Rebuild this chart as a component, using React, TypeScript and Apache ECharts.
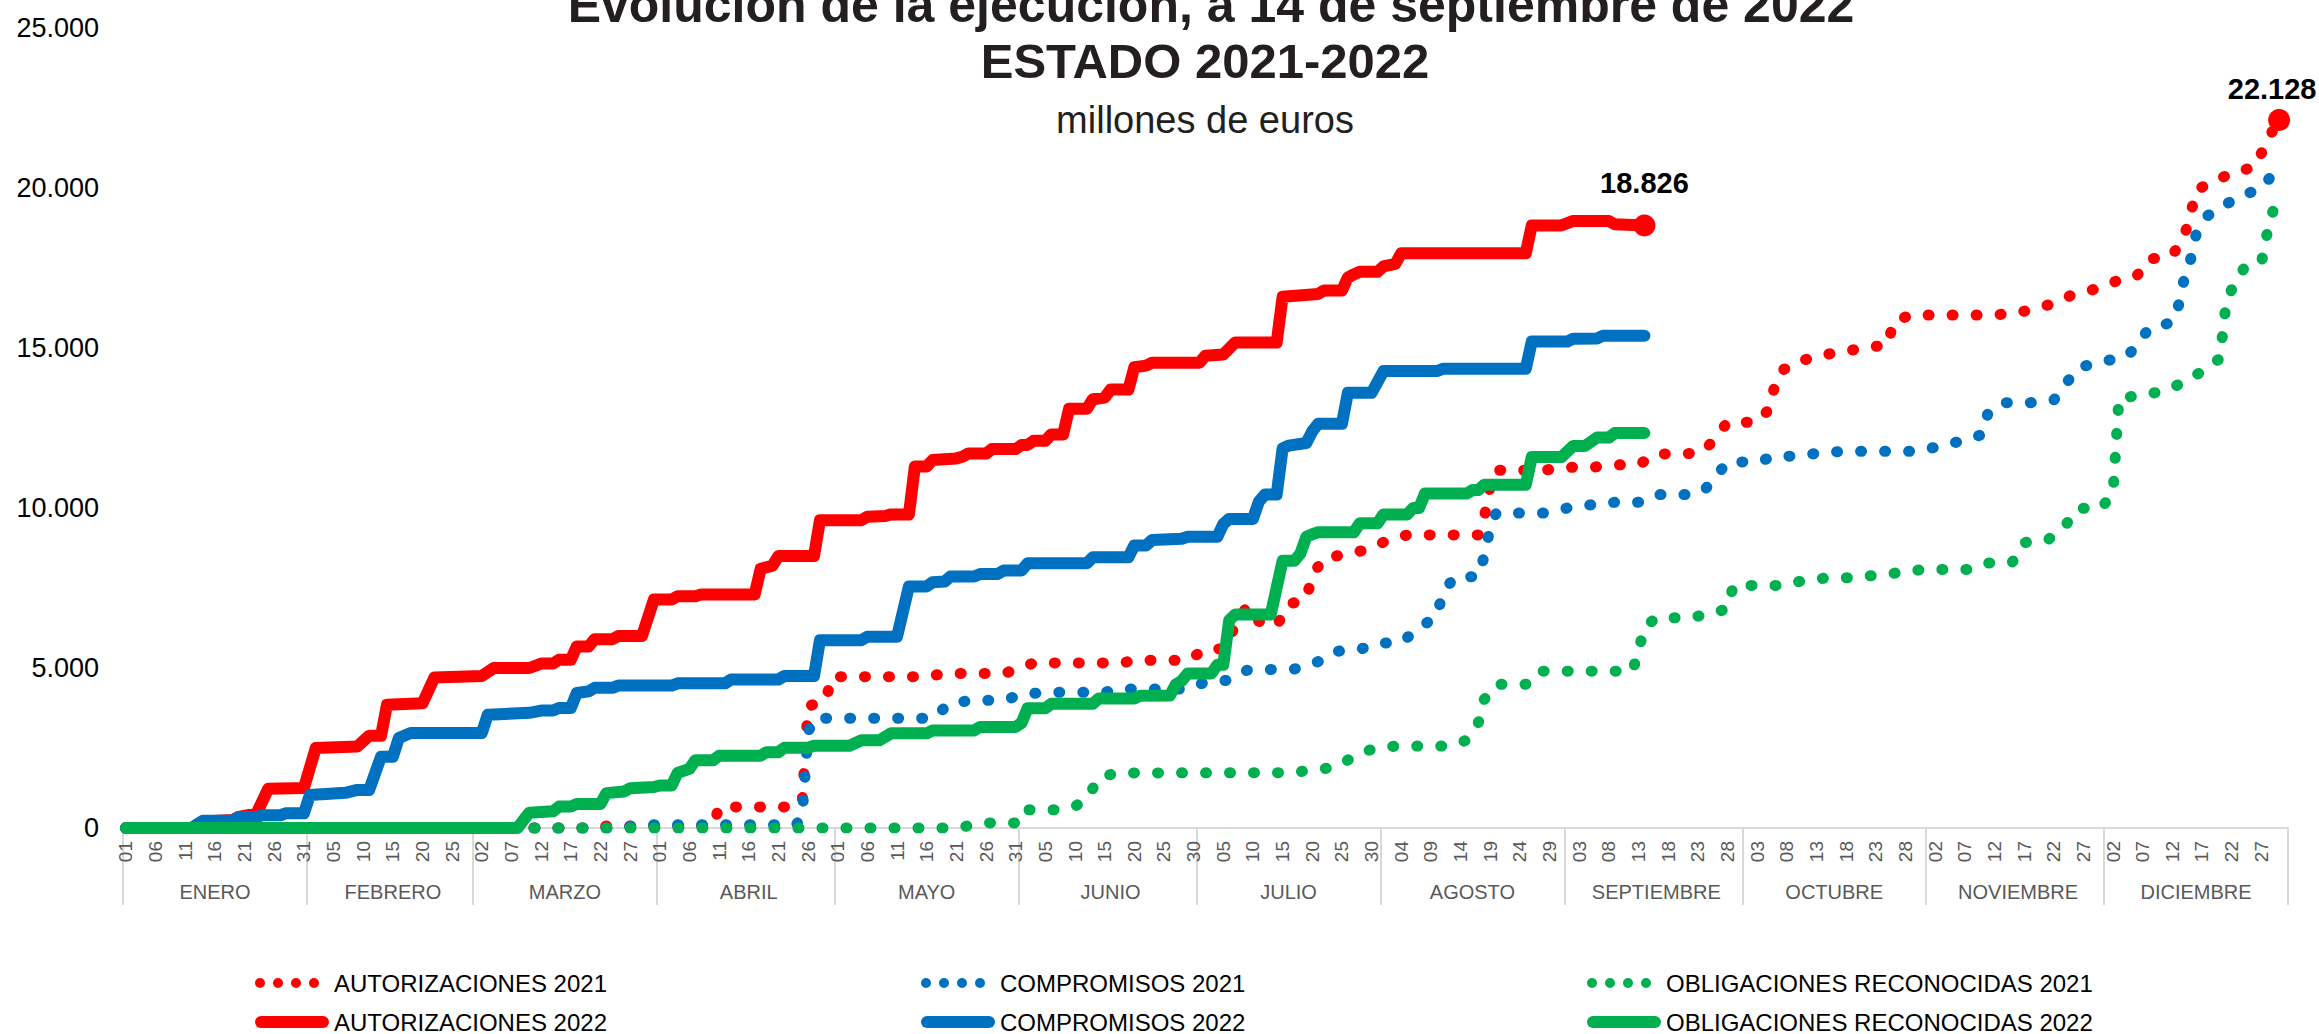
import React, { useEffect, useRef } from 'react';
import * as echarts from 'echarts';

const FONT = "'Liberation Sans', Arial, Helvetica, sans-serif";
const RED = '#ff0000';
const BLUE = '#0070c0';
const GREEN = '#00b050';

const TITLE_1 = 'Evolución de la ejecución, a 14 de septiembre de 2022';
const TITLE_2 = 'ESTADO 2021-2022';
const SUBTITLE = 'millones de euros';

const MONTHS = ['ENERO', 'FEBRERO', 'MARZO', 'ABRIL', 'MAYO', 'JUNIO', 'JULIO', 'AGOSTO', 'SEPTIEMBRE', 'OCTUBRE', 'NOVIEMBRE', 'DICIEMBRE'];
const MONTH_DAYS = [31, 28, 31, 30, 31, 30, 31, 31, 30, 31, 30, 31];

const Y_MIN = 0;
const Y_MAX = 25000;
const Y_STEP = 5000;

// [day index of the year (0 = 1 Jan), millions of euros]
const AUT_2021: [number, number][] = [
  [0, 0], [80, 0], [81, 60], [99, 60], [100, 660], [113, 660], [114, 800], [115, 3800], [118, 4000], [119, 4730],
  [135, 4730], [138, 4830], [148, 4830], [151, 5000], [153, 5160], [168, 5160], [170, 5240], [179, 5240],
  [182, 5590], [185, 5600], [187, 6310], [189, 6930], [191, 6460], [194, 6320], [196, 6990], [199, 7150],
  [200, 7900], [202, 8440], [205, 8530], [209, 8690], [212, 8930], [216, 9160], [228, 9160], [229, 9700],
  [230, 10700], [231, 11180], [239, 11180], [243, 11270], [247, 11270], [251, 11350], [255, 11350],
  [258, 11690], [263, 11690], [266, 11770], [268, 12200], [270, 12680], [275, 12680], [277, 13080],
  [278, 13840], [279, 14280], [282, 14580], [286, 14780], [290, 14900], [294, 15040], [297, 15080],
  [298, 15840], [301, 16030], [314, 16030], [318, 16070], [321, 16190], [325, 16390], [328, 16650],
  [332, 16840], [336, 17120], [339, 17250], [341, 17770], [345, 17890], [347, 18500], [348, 19100],
  [349, 19940], [352, 20200], [355, 20470], [359, 20660], [361, 21500], [363, 22128],
];

const COM_2021: [number, number][] = [
  [0, 0], [84, 0], [86, 100], [113, 100], [114, 400], [115, 3000], [116, 3430], [136, 3430], [139, 3910],
  [143, 3990], [148, 3990], [151, 4170], [155, 4240], [165, 4240], [167, 4340], [179, 4340], [182, 4560],
  [186, 4620], [189, 4930], [197, 4970], [201, 5200], [204, 5520], [208, 5580], [211, 5770], [215, 5800],
  [218, 6250], [221, 6620], [222, 7360], [224, 7840], [228, 7860], [229, 8500], [230, 9400], [231, 9840],
  [239, 9840], [243, 10000], [247, 10100], [251, 10180], [255, 10180], [258, 10420], [263, 10420],
  [266, 10530], [268, 10980], [270, 11440], [275, 11440], [278, 11620], [282, 11620], [286, 11740],
  [290, 11770], [302, 11770], [306, 11940], [310, 12120], [313, 12300], [314, 13030], [317, 13290],
  [321, 13290], [325, 13370], [327, 13870], [329, 14370], [333, 14580], [337, 14700], [339, 15050],
  [341, 15610], [345, 15800], [346, 16300], [347, 17160], [348, 17700], [349, 18540], [351, 19140],
  [354, 19490], [357, 19790], [360, 19970], [363, 20700],
];

const OBL_2021: [number, number][] = [
  [0, 0], [140, 0], [143, 100], [145, 160], [150, 160], [151, 570], [157, 570], [160, 680], [162, 900],
  [164, 1570], [167, 1720], [196, 1730], [200, 1800], [204, 1910], [207, 2230], [210, 2460], [214, 2560],
  [223, 2560], [226, 2740], [228, 3290], [229, 4020], [231, 4490], [236, 4490], [238, 4900], [254, 4900],
  [255, 5540], [256, 6280], [258, 6570], [263, 6570], [267, 6670], [270, 6860], [271, 7580], [279, 7580],
  [283, 7740], [287, 7820], [291, 7820], [295, 7900], [299, 7980], [303, 8080], [311, 8080], [314, 8280],
  [318, 8300], [320, 8920], [324, 9000], [327, 9460], [329, 9990], [333, 9990], [335, 10480],
  [336, 13440], [340, 13520], [344, 13680], [347, 13940], [350, 14270], [353, 14670], [354, 16300],
  [355, 16830], [357, 17470], [360, 17650], [361, 18600], [362, 19300], [363, 19860],
];

const AUT_2022: [number, number][] = [
  [0, 0], [12, 0], [13, 200], [18, 250], [19, 350], [22, 450], [24, 1230], [30, 1250], [32, 2500],
  [39, 2550], [41, 2880], [43, 2880], [44, 3850], [50, 3900], [52, 4700], [60, 4750], [62, 5000],
  [68, 5000], [70, 5140], [72, 5140], [73, 5260], [75, 5260], [76, 5670], [78, 5670], [79, 5900],
  [82, 5900], [83, 6000], [87, 6000], [89, 7140], [92, 7140], [93, 7240], [96, 7240], [97, 7300],
  [106, 7300], [107, 8100], [109, 8200], [110, 8500], [116, 8500], [117, 9620], [124, 9620], [125, 9730],
  [128, 9750], [129, 9800], [132, 9800], [133, 11300], [135, 11300], [136, 11500], [140, 11550],
  [141, 11600], [142, 11700], [145, 11700], [146, 11840], [150, 11840], [151, 11970], [152, 11970],
  [153, 12100], [155, 12100], [156, 12300], [158, 12300], [159, 13100], [162, 13100], [163, 13400],
  [165, 13450], [166, 13700], [169, 13700], [170, 14400], [172, 14450], [173, 14540], [181, 14540],
  [182, 14760], [185, 14800], [187, 15170], [194, 15170], [195, 16600], [201, 16690], [202, 16800],
  [205, 16800], [206, 17200], [207, 17300], [208, 17380], [211, 17380], [212, 17550], [214, 17630],
  [215, 17960], [236, 17960], [237, 18830], [242, 18830], [244, 18970], [250, 18970], [251, 18870],
  [256, 18826],
];

const COM_2022: [number, number][] = [
  [0, 0], [11, 0], [13, 230], [18, 230], [19, 340], [22, 340], [23, 400], [26, 400], [27, 460], [30, 460],
  [31, 1030], [37, 1100], [39, 1190], [41, 1190], [43, 2230], [45, 2230], [46, 2810], [48, 2970],
  [60, 2970], [61, 3540], [68, 3600], [70, 3670], [72, 3670], [73, 3750], [75, 3750], [76, 4220],
  [78, 4270], [79, 4380], [82, 4380], [83, 4450], [92, 4450], [93, 4520], [101, 4520], [102, 4640],
  [110, 4640], [111, 4750], [116, 4750], [117, 5870], [124, 5870], [125, 5980], [130, 5980], [132, 7550],
  [135, 7550], [136, 7680], [138, 7700], [139, 7860], [143, 7860], [144, 7940], [147, 7940], [148, 8050],
  [151, 8050], [152, 8270], [162, 8270], [163, 8460], [169, 8460], [170, 8830], [172, 8830], [173, 9000],
  [178, 9040], [179, 9100], [184, 9100], [185, 9500], [186, 9660], [190, 9660], [191, 10200],
  [192, 10420], [194, 10420], [195, 11860], [196, 11950], [199, 12030], [200, 12400], [201, 12630],
  [205, 12630], [206, 13600], [210, 13600], [212, 14280], [221, 14280], [222, 14350], [236, 14350],
  [237, 15200], [243, 15200], [244, 15290], [248, 15300], [249, 15380], [256, 15380],
];

const OBL_2022: [number, number][] = [
  [0, 0], [66, 0], [68, 480], [72, 520], [73, 670], [75, 670], [76, 750], [80, 750], [81, 1090], [84, 1140],
  [85, 1240], [89, 1280], [90, 1330], [92, 1330], [93, 1720], [95, 1850], [96, 2120], [99, 2120],
  [100, 2260], [107, 2260], [108, 2370], [110, 2370], [111, 2510], [115, 2510], [116, 2570], [122, 2570],
  [124, 2740], [127, 2740], [129, 2960], [135, 2960], [136, 3050], [143, 3050], [144, 3160], [150, 3160],
  [151, 3290], [152, 3740], [155, 3740], [156, 3880], [163, 3880], [164, 4050], [170, 4050], [171, 4130],
  [176, 4140], [177, 4490], [178, 4600], [179, 4830], [183, 4830], [184, 5100], [185, 5100], [186, 6490],
  [187, 6670], [193, 6670], [195, 8350], [197, 8350], [198, 8580], [199, 9100], [200, 9180], [201, 9240],
  [207, 9240], [208, 9520], [211, 9520], [212, 9800], [216, 9800], [217, 10000], [218, 10000],
  [219, 10450], [226, 10450], [227, 10560], [228, 10560], [229, 10730], [236, 10730], [237, 11590],
  [242, 11590], [244, 11940], [246, 11940], [248, 12200], [250, 12200], [251, 12340], [256, 12340],
];

const NAMES = {
  a21: 'AUTORIZACIONES 2021',
  c21: 'COMPROMISOS 2021',
  o21: 'OBLIGACIONES RECONOCIDAS 2021',
  a22: 'AUTORIZACIONES 2022',
  c22: 'COMPROMISOS 2022',
  o22: 'OBLIGACIONES RECONOCIDAS 2022',
};

const pad = (n: number) => (n < 10 ? '0' + n : '' + n);
const fmt = (v: number) => Math.round(v).toString().replace(/\B(?=(\d{3})+(?!\d))/g, '.');

const DAY_CATEGORIES: string[] = [];
const MONTH_START = new Set<number>();
const MONTH_MID = new Map<number, string>();
{
  let idx = 0;
  MONTH_DAYS.forEach((n, m) => {
    MONTH_START.add(idx);
    MONTH_MID.set(idx + Math.floor(n / 2), MONTHS[m]);
    for (let d = 1; d <= n; d++) DAY_CATEGORIES.push(pad(m + 1) + '-' + pad(d));
    idx += n;
  });
}

const DOT_ICON =
  'path://M0,5a5,5 0 1,0 10,0a5,5 0 1,0 -10,0z M18,5a5,5 0 1,0 10,0a5,5 0 1,0 -10,0z M36,5a5,5 0 1,0 10,0a5,5 0 1,0 -10,0z M54,5a5,5 0 1,0 10,0a5,5 0 1,0 -10,0z M74,5L74,5.01';
const LINE_ICON = 'path://M6,0L68,0A6,6 0 0 1 68,12L6,12A6,6 0 0 1 6,0Z';

export default function App() {
  const ref = useRef<HTMLDivElement>(null);
  useEffect(() => {
    if (!ref.current) return;
    const chart = echarts.init(ref.current, undefined, { renderer: 'svg' });

    const dotted = (name: string, data: [number, number][], color: string) => ({
      name,
      type: 'line',
      data,
      symbol: 'none',
      silent: true,
      itemStyle: { color },
      lineStyle: { color, width: 11, type: [1, 23], cap: 'round', join: 'round' },
    });
    const solid = (name: string, data: [number, number][], color: string) => ({
      name,
      type: 'line',
      data,
      symbol: 'none',
      silent: true,
      itemStyle: { color },
      lineStyle: { color, width: 12, cap: 'round', join: 'round' },
    });

    const legendBase = {
      orient: 'horizontal',
      padding: 0,
      itemWidth: 74,
      itemHeight: 12,
      selectedMode: false,
      itemStyle: { borderWidth: 0 },
      textStyle: { fontSize: 24, color: '#000', fontFamily: FONT },
    };
    const legendCols = [255, 921, 1587];
    const row1 = [NAMES.a21, NAMES.c21, NAMES.o21];
    const row2 = [NAMES.a22, NAMES.c22, NAMES.o22];
    const legends: any[] = [];
    row1.forEach((n, i) => legends.push({ ...legendBase, left: legendCols[i], top: 971, data: [{ name: n, icon: DOT_ICON }] }));
    row2.forEach((n, i) => legends.push({ ...legendBase, left: legendCols[i], top: 1010, data: [{ name: n, icon: LINE_ICON }] }));

    const endA22 = AUT_2022[AUT_2022.length - 1];
    const endA21 = AUT_2021[AUT_2021.length - 1];

    const option: any = {
      animation: false,
      backgroundColor: '#ffffff',
      textStyle: { fontFamily: FONT },
      grid: { left: 123, right: 31, top: 28, bottom: 206, containLabel: false },
      graphic: [
        { type: 'text', x: 1211, y: 5, style: { text: TITLE_1, fontSize: 50, fontWeight: 'bold', fontFamily: FONT, fill: '#231f20', textAlign: 'center', textVerticalAlign: 'middle' } },
        { type: 'text', x: 1205, y: 61, style: { text: TITLE_2, fontSize: 49, fontWeight: 'bold', fontFamily: FONT, fill: '#231f20', textAlign: 'center', textVerticalAlign: 'middle' } },
        { type: 'text', x: 1205, y: 120, style: { text: SUBTITLE, fontSize: 38, fontFamily: FONT, fill: '#231f20', textAlign: 'center', textVerticalAlign: 'middle' } },
      ],
      legend: legends,
      xAxis: [
        {
          type: 'category',
          data: DAY_CATEGORIES,
          boundaryGap: true,
          axisLine: { lineStyle: { color: '#d9d9d9', width: 2 } },
          axisTick: { show: false },
          splitLine: { show: false },
          axisLabel: {
            interval: 4,
            rotate: 90,
            margin: 13,
            fontSize: 19,
            color: '#595959',
            fontFamily: FONT,
            formatter: (v: string) => v.slice(3),
          },
        },
        {
          type: 'category',
          data: DAY_CATEGORIES,
          position: 'bottom',
          boundaryGap: true,
          axisLine: { show: false },
          splitLine: { show: false },
          axisTick: {
            show: true,
            interval: (i: number) => MONTH_START.has(i),
            length: 77,
            lineStyle: { color: '#d9d9d9', width: 2 },
          },
          axisLabel: {
            interval: (i: number) => MONTH_MID.has(i),
            formatter: (_v: string, i: number) => MONTH_MID.get(i) || '',
            margin: 54,
            fontSize: 20,
            color: '#595959',
            fontFamily: FONT,
          },
        },
      ],
      yAxis: {
        type: 'value',
        min: Y_MIN,
        max: Y_MAX,
        interval: Y_STEP,
        axisLine: { show: false },
        axisTick: { show: false },
        splitLine: { show: false },
        axisLabel: { fontSize: 27, color: '#000', margin: 24, fontFamily: FONT, formatter: (v: number) => fmt(v) },
      },
      series: [
        dotted(NAMES.a21, AUT_2021, RED),
        dotted(NAMES.c21, COM_2021, BLUE),
        dotted(NAMES.o21, OBL_2021, GREEN),
        solid(NAMES.a22, AUT_2022, RED),
        solid(NAMES.c22, COM_2022, BLUE),
        solid(NAMES.o22, OBL_2022, GREEN),
        {
          name: 'fin',
          type: 'scatter',
          symbol: 'circle',
          symbolSize: 22,
          silent: true,
          z: 10,
          itemStyle: { color: RED, opacity: 1 },
          label: {
            show: true,
            position: 'top',
            fontSize: 29,
            fontWeight: 'bold',
            color: '#000',
            fontFamily: FONT,
            formatter: (p: any) => fmt(p.value[1]),
          },
          data: [
            { value: endA22, label: { distance: 17 } },
            { value: endA21, label: { distance: 5, offset: [-7, 0] } },
          ],
        },
      ],
    };
    chart.setOption(option);
    return () => chart.dispose();
  }, []);

  return (
    <div
      ref={ref}
      style={{ position: 'fixed', left: 0, top: 0, width: 2319, height: 1034, background: '#fff' }}
    />
  );
}
